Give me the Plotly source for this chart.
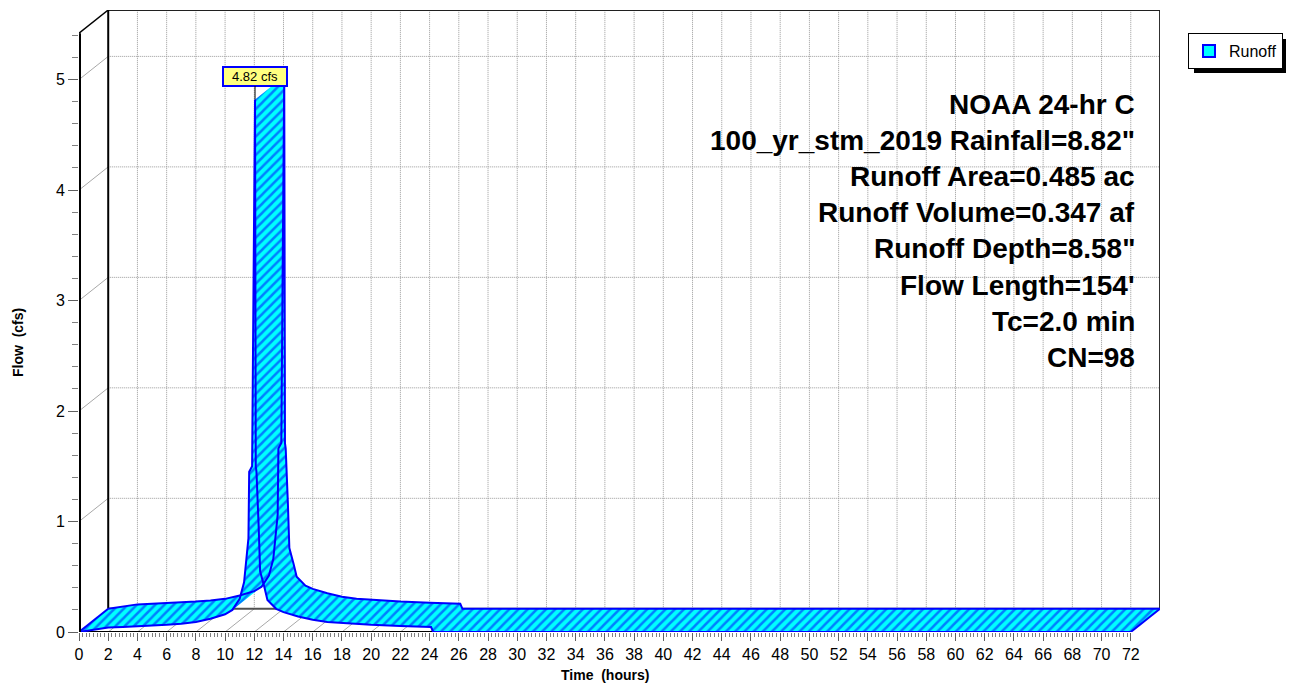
import plotly.graph_objects as go

# ---------------- data ----------------
time_hr = [0, 1, 2, 3, 4, 5, 6, 7, 8, 9, 10, 10.5, 11.0, 11.3, 11.5, 11.6, 11.65,
           11.85, 11.95, 12.05, 12.1, 12.15, 12.3, 12.4, 12.7, 12.9, 13.5, 14,
           15, 16, 17, 18, 20, 22, 24, 24.1, 24.25, 72]
flow_cfs = [0, 0.02, 0.04, 0.045, 0.05, 0.055, 0.065, 0.075, 0.09, 0.12, 0.16, 0.2,
            0.3, 0.45, 0.75, 0.85, 1.45, 1.5, 3.2, 4.82, 1.5, 1.45, 0.95, 0.55,
            0.4, 0.29, 0.21, 0.18, 0.14, 0.11, 0.09, 0.08, 0.065, 0.055, 0.05,
            0.045, 0.0, 0.0]
x_ticks = list(range(0, 73, 2))
y_ticks = [0, 1, 2, 3, 4, 5]
series_name = "Runoff"
chart_title = "Hydrograph"
info_lines = [
    "NOAA 24-hr C",
    '100_yr_stm_2019 Rainfall=8.82"',
    "Runoff Area=0.485 ac",
    "Runoff Volume=0.347 af",
    'Runoff Depth=8.58"',
    "Flow Length=154'",
    "Tc=2.0 min",
    "CN=98",
]

# ---------------- geometry of the pseudo-3D box ----------------
X_END = 72        # last hour on the axis
Y_TOP = 5.42      # front top of the flow axis
DX = 2.0          # depth offset in hours
DY = 0.21         # depth offset in cfs
FONT = "Arial, Liberation Sans, sans-serif"
CYAN = "#00FFFF"
BLUE = "#0000FF"

PAGE = 8                      # browser body margin
W, H = 1294 - PAGE, 688 - PAGE
ML, MR, MT, MB = 79 - PAGE, 134, 10 - PAGE, 56
plot_w = W - ML - MR
plot_h = H - MT - MB


def px_x(p):  # screen pixel -> paper x
    return (p - PAGE - ML) / plot_w


def px_y(p):  # screen pixel -> paper y
    return (H - MB - (p - PAGE)) / plot_h


fig = go.Figure()

# ---- ribbon fill: one parallelogram per segment, consistent orientation ----
qx, qy = [], []
for i in range(len(time_hr) - 1):
    xs = [time_hr[i], time_hr[i + 1], time_hr[i + 1] + DX, time_hr[i] + DX]
    ys = [flow_cfs[i], flow_cfs[i + 1], flow_cfs[i + 1] + DY, flow_cfs[i] + DY]
    area = 0.0
    for k in range(4):
        area += xs[k] * ys[(k + 1) % 4] - xs[(k + 1) % 4] * ys[k]
    if abs(area) < 1e-12:
        continue
    if area < 0:
        xs, ys = xs[::-1], ys[::-1]
    qx += xs + [None]
    qy += ys + [None]

fig.add_trace(go.Scatter(
    x=qx, y=qy, mode="lines", fill="toself", line=dict(width=0, color=BLUE),
    fillcolor=CYAN,
    fillpattern=dict(shape="/", fgcolor=BLUE, bgcolor=CYAN, size=6.5, solidity=0.38),
    showlegend=False, hoverinfo="skip"))

# ---- ribbon outlines: back curve, front curve, end caps ----
n = len(time_hr) - 1
lx = [t + DX for t in time_hr] + [None] + list(time_hr) + [None] + \
     [time_hr[0], time_hr[0] + DX, None, time_hr[n], time_hr[n] + DX]
ly = [q + DY for q in flow_cfs] + [None] + list(flow_cfs) + [None] + \
     [flow_cfs[0], flow_cfs[0] + DY, None, flow_cfs[n], flow_cfs[n] + DY]
fig.add_trace(go.Scatter(x=lx, y=ly, mode="lines", line=dict(color=BLUE, width=2),
                         showlegend=False, hoverinfo="skip"))

# ---- legend entry ----
fig.add_trace(go.Scatter(
    x=[None], y=[None], mode="markers", name=series_name,
    marker=dict(symbol="square", size=12, color=CYAN, line=dict(color=BLUE, width=2))))

# ---------------- box, walls and grid as shapes ----------------
shapes = []
GRID = dict(color="#9a9a9a", width=1, dash="1px,1px")
THIN = dict(color="#a8a8a8", width=1)
for t in x_ticks[1:-1]:
    shapes.append(dict(type="line", x0=t + DX, x1=t + DX, y0=DY, y1=Y_TOP + DY,
                       line=GRID, layer="below"))
    shapes.append(dict(type="line", x0=t, x1=t + DX, y0=0, y1=DY,
                       line=THIN, layer="below"))
for q in y_ticks[1:]:
    shapes.append(dict(type="line", x0=DX, x1=X_END + DX, y0=q + DY, y1=q + DY,
                       line=GRID, layer="below"))
    shapes.append(dict(type="line", x0=0, x1=DX, y0=q, y1=q + DY,
                       line=THIN, layer="below"))
# floor back edge
shapes.append(dict(type="line", x0=DX, x1=X_END + DX, y0=DY, y1=DY,
                   line=dict(color="#505050", width=2), layer="below"))
# back wall right edge
shapes.append(dict(type="line", x0=X_END + DX, x1=X_END + DX, y0=DY, y1=Y_TOP + DY,
                   line=dict(color="#303030", width=2), layer="below"))
# back wall top edge
shapes.append(dict(type="line", x0=DX, x1=X_END + DX, y0=Y_TOP + DY, y1=Y_TOP + DY,
                   line=dict(color="#202020", width=2), layer="below"))
# back wall left edge
shapes.append(dict(type="line", x0=DX, x1=DX, y0=DY, y1=Y_TOP + DY,
                   line=dict(color="black", width=2), layer="below"))
# top-left diagonal
shapes.append(dict(type="line", x0=0, x1=DX, y0=Y_TOP, y1=Y_TOP + DY,
                   line=dict(color="black", width=1.5), layer="below"))
# front bottom edge
shapes.append(dict(type="line", x0=0, x1=X_END, y0=0, y1=0,
                   line=dict(color="black", width=2), layer="below"))
# front left (flow) axis
shapes.append(dict(type="line", x0=0, x1=0, y0=0, y1=Y_TOP,
                   line=dict(color="black", width=4), layer="above"))

# legend placement (screen pixels) and its drop shadow
LEG_L, LEG_T, LEG_W, LEG_H = 1188, 33, 96, 35
shapes.append(dict(type="rect", xref="paper", yref="paper",
                   x0=px_x(LEG_L + 6), x1=px_x(LEG_L + LEG_W + 6),
                   y0=px_y(LEG_T + LEG_H + 5), y1=px_y(LEG_T + 6),
                   fillcolor="black", line=dict(width=0), layer="below"))

# ---------------- annotations ----------------
ann = []
# peak label
ipk = max(range(len(flow_cfs)), key=lambda i: flow_cfs[i])
ann.append(dict(x=time_hr[ipk], y=flow_cfs[ipk], xref="x", yref="y",
                text=f"{flow_cfs[ipk]:.2f} cfs", showarrow=True, arrowhead=0,
                arrowwidth=1, arrowcolor="black", ax=0, ay=-23, standoff=0,
                font=dict(family=FONT, size=13, color="black"),
                bgcolor="#FFFF80", bordercolor=BLUE, borderwidth=2, borderpad=1,
                width=60))
# info block
for k, line in enumerate(info_lines):
    ann.append(dict(x=px_x(1137), y=px_y(104 + 36.2 * k), xref="paper", yref="paper",
                    xanchor="right", yanchor="middle", showarrow=False,
                    text=f"<b>{line}</b>",
                    font=dict(family=FONT, size=28, color="black")))
# axis titles
ann.append(dict(x=X_END / 2, y=px_y(675), xref="x", yref="paper", showarrow=False,
                text="<b>Time \u00a0(hours)</b>", xanchor="center", yanchor="middle",
                font=dict(family=FONT, size=14, color="black")))
ann.append(dict(x=px_x(18), y=px_y(342), xref="paper", yref="paper", showarrow=False,
                text="<b>Flow \u00a0(cfs)</b>", textangle=-90, xanchor="center",
                yanchor="middle", font=dict(family=FONT, size=14, color="black")))
# title (largely cut off by the top edge, as in the reference)
ann.append(dict(x=px_x(583), y=1, xref="paper", yref="paper", showarrow=False,
                text=f"<b>{chart_title}</b>", xanchor="center", yanchor="bottom",
                yshift=0, font=dict(family=FONT, size=24, color=BLUE)))

fig.update_layout(
    width=W, height=H,
    margin=dict(l=ML, r=MR, t=MT, b=MB, autoexpand=False),
    paper_bgcolor="white", plot_bgcolor="white",
    shapes=shapes, annotations=ann,
    showlegend=True,
    legend=dict(x=px_x(LEG_L), y=px_y(LEG_T), xanchor="left", yanchor="top",
                bgcolor="white", bordercolor="black", borderwidth=1,
                font=dict(family=FONT, size=16, color="black"),
                itemwidth=30, tracegroupgap=0),
    font=dict(family=FONT, color="black"),
)
fig.update_xaxes(
    range=[0, X_END + DX], showgrid=False, zeroline=False, showline=False,
    tickmode="array", tickvals=x_ticks, ticktext=[str(v) for v in x_ticks],
    ticks="outside", ticklen=8, tickwidth=1, tickcolor="#606060",
    tickfont=dict(family=FONT, size=16, color="black"),
    minor=dict(tickvals=[i * 0.25 for i in range(0, X_END * 4 + 1)],
               ticks="outside", ticklen=4, tickwidth=1, tickcolor="#808080",
               showgrid=False),
    fixedrange=True)
fig.update_yaxes(
    range=[0, Y_TOP + DY], showgrid=False, zeroline=False, showline=False,
    tickmode="array", tickvals=y_ticks, ticktext=[str(v) for v in y_ticks],
    ticks="outside", ticklen=10, tickwidth=1, tickcolor="#606060",
    tickfont=dict(family=FONT, size=16, color="black"),
    minor=dict(tickvals=[round(i * 0.2, 1) for i in range(0, 28)],
               ticks="outside", ticklen=6, tickwidth=1, tickcolor="#808080",
               showgrid=False),
    fixedrange=True)

fig.write_html("out.html")
